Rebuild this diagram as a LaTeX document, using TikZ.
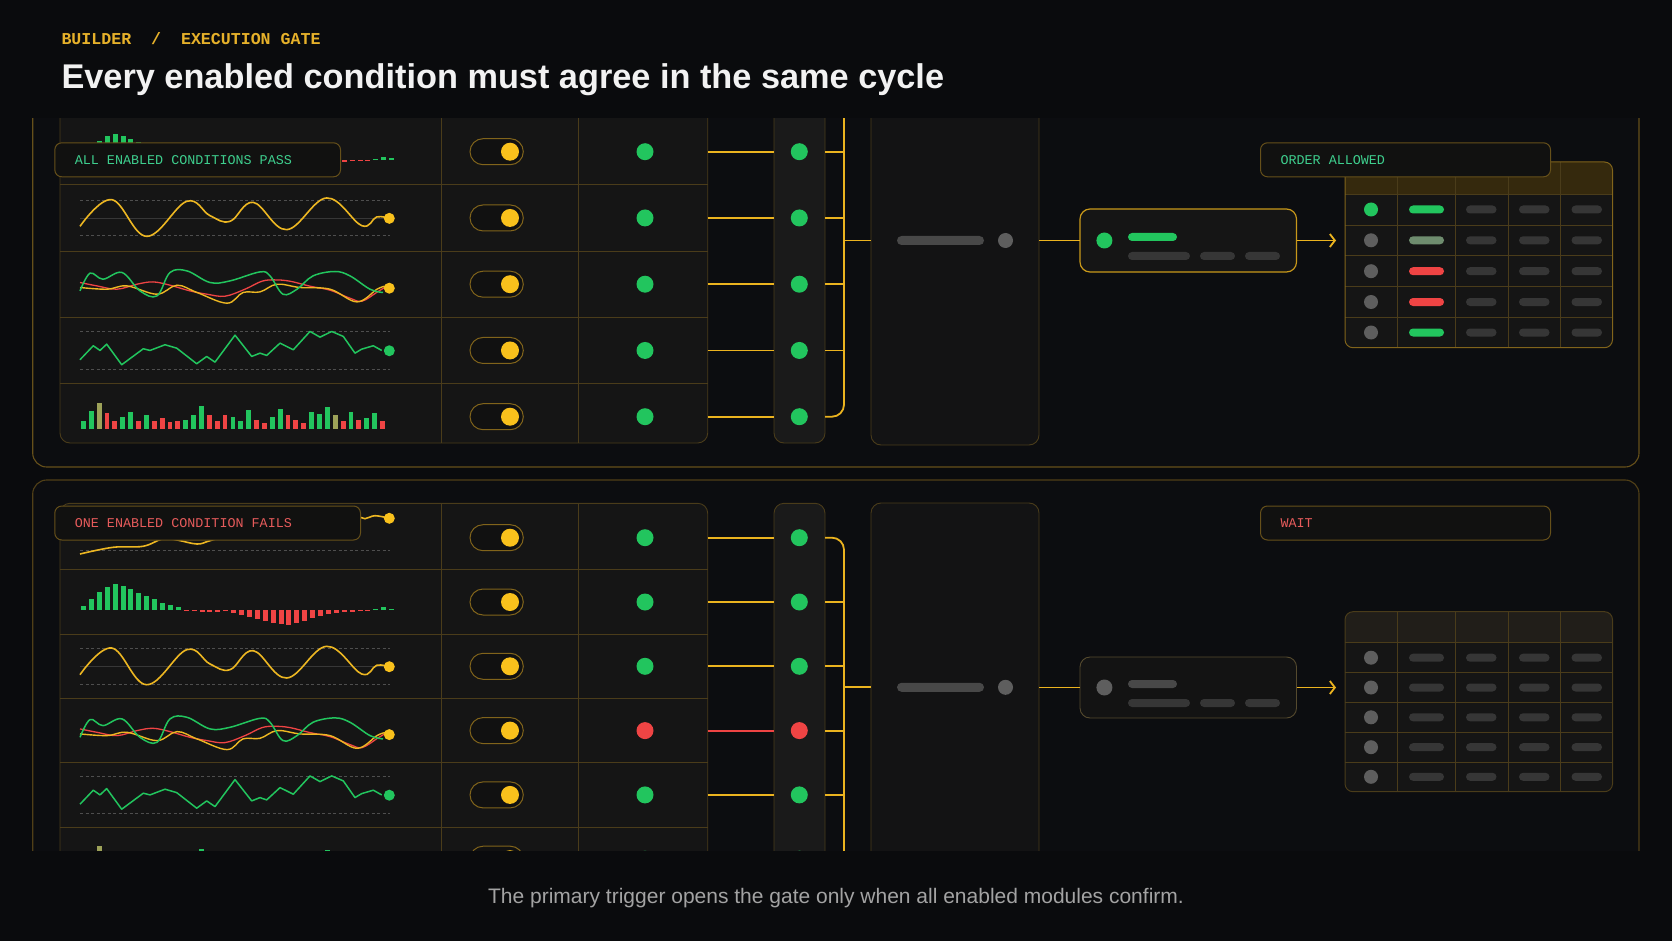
\documentclass[tikz,border=0pt]{standalone}
\usepackage{fontspec}
\setmainfont{Liberation Sans}
\setmonofont{Liberation Mono}
\usetikzlibrary{arrows.meta}

% palette
\definecolor{pagebg}{HTML}{0A0B0D}
\definecolor{panelbg}{HTML}{0C0D10}
\definecolor{cellbg}{HTML}{151515}
\definecolor{pillbg}{HTML}{1A1A1A}
\definecolor{gatebg}{HTML}{131314}
\definecolor{tagbg}{HTML}{111110}
\definecolor{dimgold}{HTML}{4A3C1A}
\definecolor{framegold}{HTML}{66501A}
\definecolor{gold}{HTML}{EBB31F}
\definecolor{knob}{HTML}{F9C11C}
\definecolor{tracey}{HTML}{EDB722}
\definecolor{okgreen}{HTML}{22C55E}
\definecolor{badred}{HTML}{EF4444}
\definecolor{mutedgreen}{HTML}{6E8C6E}
\definecolor{olivebar}{HTML}{9DA259}
\definecolor{greydot}{HTML}{5E5E5E}
\definecolor{greybar}{HTML}{363636}
\definecolor{gatebar}{HTML}{484848}
\definecolor{dashgrey}{HTML}{4E4E4E}
\definecolor{passtext}{HTML}{3ECF8E}
\definecolor{failtext}{HTML}{E65B5B}
\definecolor{crumbgold}{HTML}{E6B12A}
\definecolor{capgrey}{HTML}{A3A3A3}
\definecolor{hdrA}{HTML}{35290D}
\definecolor{hdrB}{HTML}{211E19}
\colorlet{barG}{okgreen}
\colorlet{barR}{badred}
\colorlet{barO}{olivebar}

\newcommand\lblfont{\ttfamily\fontsize{13.4}{16}\selectfont}
\newcommand\lsp{\hspace{0.6em}}

\tikzset{
  panelframe/.style={draw=framegold, fill=panelbg, line width=1.1pt, rounded corners=14pt},
  cardbox/.style={rectangle, draw=dimgold, line width=0.9pt, rounded corners=10pt,
    inner sep=0pt, outer sep=0pt},
  cellgrid/.style={draw=dimgold, line width=0.8pt},
  conn/.style={draw=gold, line width=1.8pt},
  failconn/.style={draw=badred, line width=1.8pt},
  lamp/.style={circle, inner sep=0pt, outer sep=0pt, minimum size=17pt},
  gridash/.style={draw=dashgrey, line width=0.8pt, dash pattern=on 3pt off 2.5pt},
  midline/.style={draw=dashgrey!60!cellbg, line width=0.6pt},
  ytrace/.style={draw=tracey, line width=1.6pt},
  gtrace/.style={draw=okgreen, line width=1.5pt},
  rtrace/.style={draw=badred, line width=1.3pt},
  togline/.style={draw=framegold!80!gold, fill=cellbg!80!black, line width=1pt, rounded corners=13pt},
  tagbox/.style={rectangle, draw=framegold, fill=tagbg, line width=1pt, rounded corners=7pt,
    anchor=north west, minimum height=34pt, inner xsep=20pt, inner ysep=0pt,
    align=left, font=\lblfont},
}

% charts, drawn round a row centre
\newcommand\histchart[1]{%
  \begin{scope}[shift={(0,#1)}]
    \foreach \h [count=\i from 0] in {4,10.7,18.3,23.3,26,24,20.7,17.3,14.3,11,7.3,5,2.7}
      \fill[barG] ({81+7.9*\i},8) rectangle ++(5,-\h);
    \foreach \h [count=\i from 13] in {0.7,1,1.7,2,1.7,1.3,2.7,4.7,6.7,8.7,10.7,12.7,14,14.7,13.3,11,8.3,6,4,2.7,2,1.7,1.3,1}
      \fill[barR] ({81+7.9*\i},8) rectangle ++(5,\h);
    \foreach \h [count=\i from 37] in {1,2.7,1.3}
      \fill[barG] ({81+7.9*\i},8) rectangle ++(5,-\h);
  \end{scope}}
\newcommand\wavechart[1]{%
  \begin{scope}[shift={(0,#1)}]
    \draw[gridash] (80,-17.7) -- (390,-17.7) (80,17.7) -- (390,17.7);
    \draw[midline] (80,0) -- (390,0);
    \draw[ytrace] plot[smooth, tension=0.65] coordinates {(80,8.4) (111.7,-18.3) (146.7,18.4)
      (186.7,-16.6) (210,-2.3) (230,3.4) (253.3,-15.6) (286.7,11.7) (326.7,-20) (361.7,7.7)
      (376.7,-1) (389.3,0.4)};
    \fill[knob] (389.3,0.4) circle (5.5);
  \end{scope}}
\newcommand\multichart[1]{%
  \begin{scope}[shift={(0,#1)}]
    \draw[rtrace] plot[smooth, tension=0.6] coordinates {(80,-1.7) (97,1.7) (117,5) (137,0)
      (153,-2.3) (170,1) (190,6.7) (207,10) (225,12) (245,5) (262,-3) (275,-4.3) (290,-3)
      (310,2) (330,6) (350,14) (362,17) (377,8) (385,3)};
    \draw[ytrace, line width=1.4pt] plot[smooth, tension=0.6] coordinates {(80,3.3) (107,5)
      (127,1.7) (157,10) (177,1) (197,8.3) (227,19) (243,8.3) (260,7.7) (277,0) (300,3.3)
      (330,5) (357,17.7) (377,5) (385,2)};
    \draw[gtrace] plot[smooth, tension=0.6] coordinates {(80,6.7) (90,-11) (103,-5) (122,-11.7)
      (140,6.7) (157,11.7) (170,-11.7) (187,-13.3) (210,-1.7) (230,-3.3) (260,-12.3) (270,-8.3)
      (283,10) (297,5) (313,-8.3) (335,-12.7) (350,-8.3) (370,5) (383,8.3)};
    \fill[knob] (389.3,4) circle (5.5);
  \end{scope}}
\newcommand\zigchart[1]{%
  \begin{scope}[shift={(0,#1)}]
    \draw[gridash] (80,-18.8) -- (390,-18.8) (80,18.8) -- (390,18.8);
    \draw[gtrace, line join=round] (80,9.3) -- (93.3,-4.7) -- (100,0) -- (106.7,-6.3) -- (121.7,14.3)
      -- (143.3,-1.7) -- (150,0) -- (165,-5.7) -- (176.7,-2.3) -- (196.7,13.3) -- (206.7,6)
      -- (215,11.7) -- (235,-15.3) -- (251.7,6) -- (260,2.7) -- (266.7,5) -- (280,-7.3)
      -- (293.3,-0.7) -- (310,-19) -- (320,-13.3) -- (331.7,-19) -- (343.3,-14) -- (355,2.7)
      -- (361.7,-1.3) -- (373.3,-4.7) -- (381.7,0);
    \fill[okgreen] (389.3,0.3) circle (5.5);
  \end{scope}}
\newcommand\barchart[1]{%
  \begin{scope}[shift={(0,#1)}]
    \foreach \h/\c [count=\i from 0] in {8.3/G,18/G,25.7/O,15.7/R,8.3/R,11.7/G,17.3/G,8.3/R,
        14/G,8.3/R,10.7/R,7.3/R,8.3/R,9/G,14/G,23/G,14/R,8.3/R,14/R,11.7/G,8.3/G,19/G,9/R,
        5.7/R,11.7/G,19.7/G,14/R,9/R,5.7/R,17.3/G,15/G,21.7/G,14/O,8.3/R,17.3/G,9/R,10.7/G,
        16.3/G,8.3/R}
      \fill[bar\c] ({81+7.87*\i},12.3) rectangle ++(4.8,-\h);
  \end{scope}}
\newcommand\trendchart[1]{%
  \begin{scope}[shift={(0,#1)}]
    \draw[gridash] (80,12.3) -- (390,12.3);
    \draw[ytrace] plot[smooth, tension=0.6] coordinates {(80,16.3) (113,9.6) (143,8.6) (163,1)
      (177,2.3) (197,6.3) (210,3) (240,-6) (270,-12) (300,-9) (330,-15) (355,-21) (365,-19)
      (375,-22) (389.3,-19.4)};
    \fill[knob] (389.3,-19.4) circle (5.5);
  \end{scope}}
\newcommand\toggleat[1]{%
  \draw[togline] (470,#1-13) rectangle (523.3,#1+13);
  \fill[knob] (510,#1) circle (9);}
\newcommand\resultrow[3]{%
  \fill[#2] (1371,#1) circle (7);
  \fill[#3, rounded corners=4pt] (1409,#1-4) rectangle (1444,#1+4);
  \foreach \bx in {1466,1519,1571.5}
    \fill[greybar, rounded corners=4pt] (\bx,#1-4) rectangle ++(30.5,8);}

\begin{document}
\begin{tikzpicture}[x=1pt,y=-1pt]
  \fill[pagebg] (0,0) rectangle (1672,941);
  \useasboundingbox (0,0) rectangle (1672,941);

  \node[anchor=base west, text=crumbgold, font=\ttfamily\bfseries\fontsize{16.6}{20}\selectfont]
    (crumb) at (58,45) {BUILDER~~/~~EXECUTION~GATE};
  \node[anchor=base west, text=white!95!black, font=\bfseries\fontsize{34.3}{40}\selectfont]
    (title) at (58,89) {Every enabled condition must agree in the same cycle};
  \node[anchor=base, text=capgrey, font=\fontsize{21}{25}\selectfont]
    (caption) at (836,903) {The primary trigger opens the gate only when all enabled modules confirm.};

  \begin{scope}
    \clip (0,119) rectangle (1672,850);
    \draw[panelframe] (32.7,40) rectangle (1639,467);
    \draw[panelframe, draw=framegold!75!panelbg] (32.7,480) rectangle (1639,1000);

    % condition tables
    \node[cardbox, fill=cellbg, minimum width=647.7pt, minimum height=360pt, anchor=south west]
      (condA) at (60,443) {};
    \node[cardbox, fill=cellbg, minimum width=647.7pt, minimum height=420pt, anchor=north west]
      (condB) at (60,503.3) {};
    \foreach \i in {0,...,3}
      \draw[cellgrid] (60,{184.85+66.25*\i}) -- (707.7,{184.85+66.25*\i});
    \foreach \i in {0,...,4}
      \draw[cellgrid] (60,{569.7+64.3*\i}) -- (707.7,{569.7+64.3*\i});
    \foreach \x in {441,578} {
      \draw[cellgrid] (\x,100) -- (\x,443);
      \draw[cellgrid] (\x,503.3) -- (\x,900);
    }

    \histchart{151.7}
    \wavechart{217.95}
    \multichart{284.2}
    \zigchart{350.45}
    \barchart{416.7}

    \trendchart{537.7}
    \histchart{602}
    \wavechart{666.3}
    \multichart{730.6}
    \zigchart{794.9}
    \barchart{859.2}

    \foreach \y in {151.7,217.95,284.2,350.45,416.7,537.7,602,666.3,730.6,794.9,859.2} {
      \toggleat{\y}
    }

    % pills
    \node[cardbox, fill=pillbg, minimum width=51pt, minimum height=360pt, anchor=south west]
      (pillA) at (774,443) {};
    \node[cardbox, fill=pillbg, minimum width=51pt, minimum height=420pt, anchor=north west]
      (pillB) at (774,503.3) {};

    \foreach \y [count=\i from 0] in {151.7,217.95,284.2,350.45,416.7} {
      \node[lamp, fill=okgreen] (sA\i) at (645,\y) {};
      \node[lamp, fill=okgreen] (pA\i) at (799.3,\y) {};
    }
    \foreach \y/\c [count=\i from 0] in {537.7/okgreen,602/okgreen,666.3/okgreen,730.6/badred,794.9/okgreen,859.2/okgreen} {
      \node[lamp, fill=\c] (sB\i) at (645,\y) {};
      \node[lamp, fill=\c] (pB\i) at (799.3,\y) {};
    }

    % gates
    \node[cardbox, fill=gatebg, minimum width=168pt, minimum height=380pt, anchor=south west]
      (gateA) at (871,445) {};
    \node[cardbox, fill=gatebg, minimum width=168pt, minimum height=420pt, anchor=north west]
      (gateB) at (871,503) {};
    \foreach \y in {240.5,687.3} {
      \fill[gatebar, rounded corners=4.5pt] (897,\y-4.5) rectangle (984,\y+4.5);
      \fill[greydot] (1005.5,\y) circle (7.5);
    }

    % connectors
    \coordinate (busA) at (844,240.5);
    \coordinate (busAend) at (844,100);
    \coordinate (busB) at (844,687.3);
    \coordinate (busBend) at (844,900);
    \foreach \i in {0,...,4}
      \draw[conn] (condA.east |- sA\i) -- (pillA.west |- sA\i);
    \foreach \i/\s in {0/conn,1/conn,2/conn,3/failconn,4/conn,5/conn}
      \draw[\s] (condB.east |- sB\i) -- (pillB.west |- sB\i);
    \foreach \i in {0,...,3}
      \draw[conn] (pillA.east |- pA\i) -- (busA |- pA\i);
    \draw[conn, rounded corners=12pt] (pillA.east |- pA4) -- (busA |- pA4) -- (busAend);
    \foreach \i in {1,...,5}
      \draw[conn] (pillB.east |- pB\i) -- (busB |- pB\i);
    \draw[conn, rounded corners=12pt] (pillB.east |- pB0) -- (busB |- pB0) -- (busBend);
    \draw[conn] (busA) -- (gateA.west |- busA);
    \draw[conn] (busB) -- (gateB.west |- busB);

    % order cards
    \node[cardbox, draw=gold!85!black, line width=1.2pt, fill=cellbg, minimum width=216.5pt,
      minimum height=63pt] (cardA) at (1188.25,240.5) {};
    \node[cardbox, draw=dimgold!80!gray, fill=cellbg!90!black, minimum width=216.5pt,
      minimum height=61pt] (cardB) at (1188.25,687.5) {};
    \draw[conn] (gateA.east |- cardA) -- (cardA.west);
    \draw[conn] (gateB.east |- cardB) -- (cardB.west);
    \fill[okgreen] (1104.4,240.5) circle (8);
    \fill[okgreen, rounded corners=4pt] (1128,233) rectangle (1177,241);
    \fill[greydot] (1104.4,687.5) circle (8);
    \fill[gatebar, rounded corners=4pt] (1128,680) rectangle (1177,688);
    \foreach \y in {256,703} {
      \foreach \a/\b in {1128/1190,1200/1235,1245/1280} {
        \fill[greybar, rounded corners=4pt] (\a,\y-4) rectangle (\b,\y+4);
      }
    }

    % result tables
    \node[cardbox, fill=cellbg, draw=none, minimum width=267.5pt, minimum height=185.7pt,
      anchor=north west] (tblA) at (1345,162) {};
    \node[cardbox, fill=cellbg, draw=none, minimum width=267.5pt, minimum height=180pt,
      anchor=north west] (tblB) at (1345,611.7) {};
    \coordinate (inA) at (1336,240.5);
    \coordinate (inB) at (1336,687.5);
    \draw[conn, -{Straight Barb[length=5pt,width=13pt]}] (cardA.east) -- (inA);
    \draw[conn, -{Straight Barb[length=5pt,width=13pt]}] (cardB.east) -- (inB);
    \begin{scope}
      \clip[rounded corners=8pt] (tblA.north west) rectangle (tblA.south east);
      \fill[hdrA] (tblA.north west) rectangle (1612.5,194);
      \foreach \x in {1397.5,1455,1508,1560} \draw[cellgrid] (\x,162) -- (\x,347.7);
      \foreach \y in {194,225,255.7,286.7,317.3} \draw[cellgrid] (1345,\y) -- (1612.5,\y);
    \end{scope}
    \begin{scope}
      \clip[rounded corners=8pt] (tblB.north west) rectangle (tblB.south east);
      \fill[hdrB] (tblB.north west) rectangle (1612.5,642.7);
      \foreach \x in {1397.5,1455,1508,1560} \draw[cellgrid] (\x,611.7) -- (\x,791.7);
      \foreach \y in {642.7,672.7,702.3,732.3,762} \draw[cellgrid] (1345,\y) -- (1612.5,\y);
    \end{scope}
    \draw[draw=framegold!80!gold, line width=1pt, rounded corners=8pt] (tblA.north west) rectangle (tblA.south east);
    \draw[draw=dimgold, line width=1pt, rounded corners=8pt] (tblB.north west) rectangle (tblB.south east);
    \foreach \y/\d/\b in {209.5/okgreen/okgreen,240.3/greydot/mutedgreen,271.2/greydot/badred,
        302/greydot/badred,332.5/greydot/okgreen} {
      \resultrow{\y}{\d}{\b}
    }
    \foreach \y in {657.7,687.5,717.3,747.2,776.8} {
      \resultrow{\y}{greydot}{greybar}
    }

    % labels
    \node[tagbox, text width=245.7pt, text=passtext] (passlbl) at (54.3,142.3) {ALL\lsp ENABLED\lsp CONDITIONS\lsp PASS};
    \node[tagbox, text width=265.7pt, text=failtext] (faillbl) at (54.3,505.5) {ONE\lsp ENABLED\lsp CONDITION\lsp FAILS};
    \node[tagbox, text width=250pt, text=passtext] (allowlbl) at (1260,142.3) {ORDER\lsp ALLOWED};
    \node[tagbox, text width=250pt, text=failtext] (waitlbl) at (1260,505.5) {WAIT};
  \end{scope}
\end{tikzpicture}
\end{document}
